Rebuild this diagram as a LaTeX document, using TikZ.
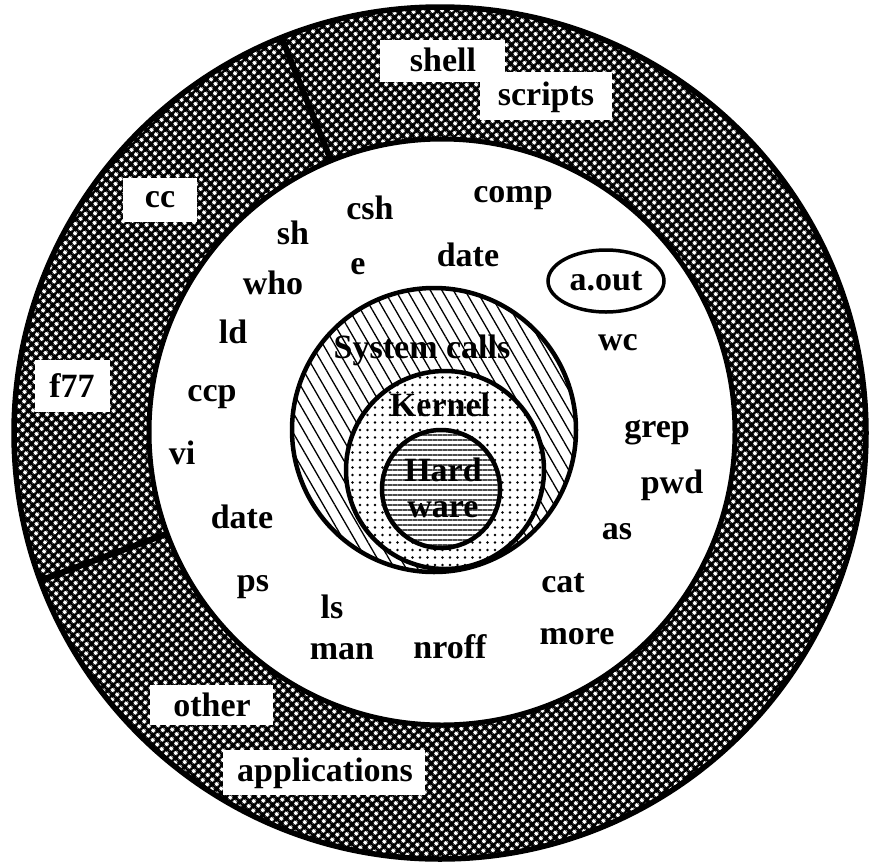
\documentclass[tikz,border=0pt]{standalone}
\usepackage{fontspec}
\setmainfont{Liberation Serif}
\usetikzlibrary{patterns.meta,shapes.geometric}
\begin{document}
\begin{tikzpicture}[x=1pt,y=-1pt,
  lbl/.style={font=\fontsize{34}{38}\selectfont\bfseries, inner sep=0pt},
  ringline/.style={line width=4.5pt},
  wbox/.style={fill=white, draw=none}]
\useasboundingbox (0,0) rectangle (873,865);
% outer ring
\coordinate (O) at (440,433);
\fill[black] (O) circle[radius=428pt];
\fill[pattern={Dots[radius=2.3pt, distance=6.5pt, angle=45]}, pattern color=white] (O) circle[radius=428pt];
\draw[line width=5.5pt] (O) circle[radius=426pt];
% dividers
\coordinate (d1o) at (281,36);
\coordinate (d1i) at (336,173);
\coordinate (d2o) at (39,581);
\coordinate (d2i) at (177,530);
\draw[line width=6pt] (d1o) -- (d1i);
\draw[line width=6pt] (d2o) -- (d2i);
% inner white disc
\coordinate (C) at (442,432);
\filldraw[fill=white, line width=5pt] (C) circle[radius=293pt];
% label boxes in the ring
\fill[wbox] (380,40) rectangle (505,82);
\fill[wbox] (480,72) rectangle (612,120);
\fill[wbox] (123,178) rectangle (197,222);
\fill[wbox] (35,360) rectangle (110,412);
\fill[wbox] (150,685) rectangle (273,725);
\fill[wbox] (223,750) rectangle (425,795);
% system calls
\coordinate (S) at (434,430);
\fill[white] (S) circle[radius=142pt];
\fill[pattern={Lines[angle=-60, distance=10pt, line width=1.3pt]}, pattern color=black] (S) circle[radius=142pt];
\draw[ringline] (S) circle[radius=142pt];
% kernel
\coordinate (K) at (445,470);
\fill[white] (K) circle[radius=99pt];
\fill[pattern={Dots[radius=1.3pt, distance=7.5pt]}, pattern color=black] (K) circle[radius=99pt];
\draw[ringline] (K) circle[radius=99pt];
% hardware
\coordinate (H) at (441,489);
\fill[white] (H) circle[radius=59pt];
\fill[pattern={Lines[distance=5pt, line width=1.8pt]}, pattern color=black!70] (H) circle[radius=59pt];
\draw[ringline] (H) circle[radius=59pt];
% a.out
\node[draw, line width=3.5pt, ellipse, minimum width=116pt, minimum height=62pt, inner sep=0pt] (aout) at (606,281) {};
\node[lbl] (aouttxt) at (606,281) {a.out};
% ring labels
\node[lbl] (shell) at (443,60) {shell};
\node[lbl] (scripts) at (546,97) {scripts};
\node[lbl] (cc) at (160,200) {cc};
\node[lbl] (f77) at (72,386) {f77};
\node[lbl] (other) at (212,705) {other};
\node[lbl] (applications) at (325,773) {applications};
% inner labels
\node[lbl] (comp) at (513,198) {comp};
\node[lbl] (csh) at (370,208) {csh};
\node[lbl] (sh) at (293,233) {sh};
\node[lbl] (date1) at (468,255) {date};
\node[lbl] (e) at (358,267) {e};
\node[lbl] (who) at (273,283) {who};
\node[lbl] (ld) at (233,332) {ld};
\node[lbl] (ccp) at (212,397) {ccp};
\node[lbl] (vi) at (182,453) {vi};
\node[lbl] (date2) at (242,517) {date};
\node[lbl] (ps) at (253,587) {ps};
\node[lbl] (ls) at (332,607) {ls};
\node[lbl] (man) at (342,652) {man};
\node[lbl] (nroff) at (450,647) {nroff};
\node[lbl] (cat) at (563,583) {cat};
\node[lbl] (more) at (577,637) {more};
\node[lbl] (as) at (617,532) {as};
\node[lbl] (wc) at (618,343) {wc};
\node[lbl] (grep) at (657,433) {grep};
\node[lbl] (pwd) at (672,485) {pwd};
% core labels
\node[lbl] (syscalls) at (422,350) {System calls};
\node[lbl] (kernel) at (440,405) {Kernel};
\node[lbl] (hard) at (443,470) {Hard};
\node[lbl] (ware) at (443,510) {ware};
\end{tikzpicture}
\end{document}
